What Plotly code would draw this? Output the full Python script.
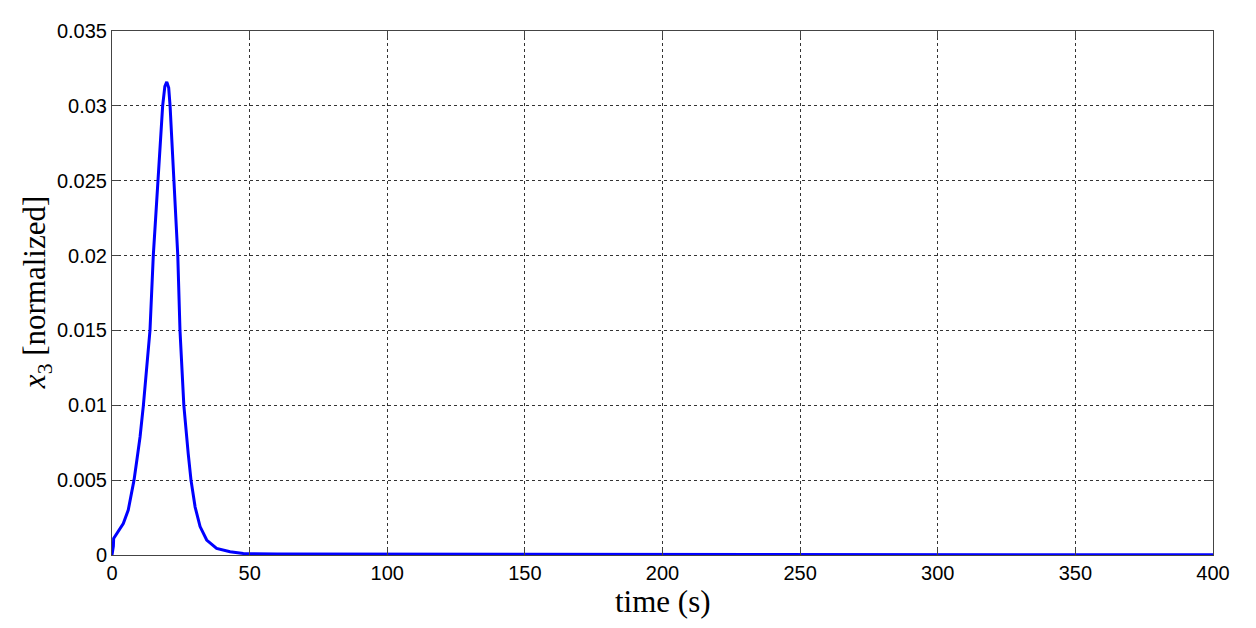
import plotly.graph_objects as go

# time (s) and normalized x3
time_s = [0, 0.5, 0.6, 2.3, 4.1, 5.9, 7.2, 8.0, 9.0, 10.2, 11.4, 12.7, 13.8,
          15.0, 16.6, 18.4, 19.2, 19.9, 20.6, 21.1, 22.5, 23.9, 24.7, 26.1,
          27.7, 28.7, 30.2, 32.0, 34.4, 38.0, 42.9, 47.7, 60, 100, 150, 224,
          226, 300, 400]
x3 = [0, 0.0006, 0.0011, 0.00155, 0.0021, 0.0030, 0.0041, 0.005, 0.0063,
      0.0079, 0.01, 0.0125, 0.015, 0.02, 0.025, 0.03, 0.0313, 0.0316, 0.0312,
      0.03, 0.025, 0.02, 0.015, 0.01, 0.00675, 0.005, 0.0032, 0.0019, 0.001,
      0.00044, 0.00022, 0.0001, 0.00006, 0.00005, 0.00005, 0.00005, 0.00002,
      0.00001, 0.00001]

x_ticks = [0, 50, 100, 150, 200, 250, 300, 350, 400]
y_ticks = [0, 0.005, 0.01, 0.015, 0.02, 0.025, 0.03, 0.035]
y_labels = ["0", "0.005", "0.01", "0.015", "0.02", "0.025", "0.03", "0.035"]

fig = go.Figure()
fig.add_trace(go.Scatter(
    x=time_s, y=x3, mode="lines",
    line=dict(color="#0000ff", width=3),
))

axis_style = dict(
    showline=True, linecolor="#444", linewidth=1, mirror="ticks",
    ticks="inside", ticklen=7, tickcolor="#444",
    showgrid=True, gridcolor="#333", griddash="dot", gridwidth=1,
    zeroline=False,
    tickfont=dict(family="Liberation Sans, Arial", size=20, color="#000"),
)
title_font = dict(family="Liberation Serif, DejaVu Serif", size=31, color="#000")

fig.update_xaxes(range=[0, 400], tickvals=x_ticks, **axis_style)
fig.update_yaxes(range=[0, 0.035], tickvals=y_ticks, ticktext=y_labels, **axis_style)

# axis titles as annotations so they sit where the reference has them
fig.add_annotation(
    text="time (s)", font=title_font, showarrow=False,
    xref="paper", yref="paper", x=0.5, y=-0.089,
    xanchor="center", yanchor="middle",
)
fig.add_annotation(
    text="<i>x</i><sub>3</sub> [normalized]", font=title_font, showarrow=False,
    xref="paper", yref="paper", x=-0.068, y=0.5, textangle=-90,
    xanchor="center", yanchor="middle",
)

# the page adds an 8px body margin, so the figure is a bit smaller
fig.update_layout(
    width=1248, height=620,
    margin=dict(l=104, r=43, t=20, b=73),
    plot_bgcolor="white", paper_bgcolor="white",
    showlegend=False,
)

fig.write_html("out.html")
